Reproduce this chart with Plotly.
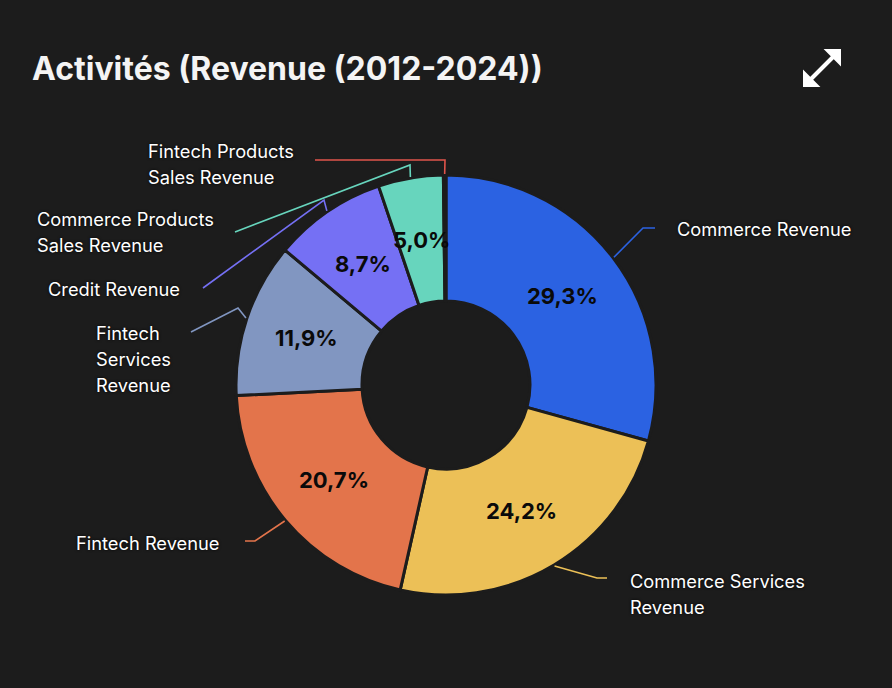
import math
import plotly.graph_objects as go

# ---------------- data ----------------
categories = [
    "Commerce Revenue",
    "Commerce Services Revenue",
    "Fintech Revenue",
    "Fintech Services Revenue",
    "Credit Revenue",
    "Commerce Products Sales Revenue",
    "Fintech Products Sales Revenue",
]
share_pct = [29.3, 24.2, 20.7, 11.9, 8.7, 5.0, 0.2]
label_lines = [
    ["Commerce Revenue"],
    ["Commerce Services", "Revenue"],
    ["Fintech Revenue"],
    ["Fintech", "Services", "Revenue"],
    ["Credit Revenue"],
    ["Commerce Products", "Sales Revenue"],
    ["Fintech Products", "Sales Revenue"],
]
colors = ["#2b62e2", "#ecc057", "#e3744b", "#8196c1", "#7570f4", "#67d5bd", "#e0544b"]
title = "Activités (Revenue (2012-2024))"

# ---------------- layout constants (pixels) ----------------
W, H = 892, 688
CX, CY, R = 446, 385, 210
HOLE = 0.4
BG = "#1c1c1c"
LINE_GAP = 26
# leader-line elbow and end points, label anchor (x, y of first line, xanchor)
elbows = [(643, 228), (597, 578), (255, 541), (238, 308), (324, 200), (410, 165), (445, 160)]
ends = [(655, 228), (607, 578), (245, 541), (191, 332), (203, 288), (235, 232), (315, 160)]
anchors = [(675, 229, "left"), (628, 581, "left"), (222, 543, "right"), (94, 333, "left"),
           (182, 289, "right"), (35, 219, "left"), (146, 151, "left")]


def px(x):
    return x / W


def py(y):
    return 1 - y / H


fig = go.Figure()
fig.add_trace(go.Pie(
    labels=categories,
    values=share_pct,
    hole=HOLE,
    sort=False,
    direction="clockwise",
    rotation=0,
    textinfo="none",
    marker=dict(colors=colors, line=dict(color=BG, width=3)),
    domain=dict(x=[px(CX - R), px(CX + R)], y=[py(CY + R), py(CY - R)]),
    showlegend=False,
))

total = sum(share_pct)
annotations = []
shapes = []
cum = 0.0
for i, v in enumerate(share_pct):
    mid = (cum + v / 2) / total * 2 * math.pi
    cum += v
    s, c = math.sin(mid), math.cos(mid)
    # percentage labels inside the ring
    if v / total >= 0.01:
        rm = R * (1 + HOLE) / 2
        annotations.append(dict(
            x=px(CX + rm * s), y=py(CY - rm * c), xref="paper", yref="paper",
            text=f"{v / total * 100:.1f}".replace(".", ",") + "%",
            showarrow=False, xanchor="center", yanchor="middle",
            font=dict(family="Inter, Roboto, sans-serif", size=22, color="#0a0a0a", weight="bold"),
        ))
    # leader line
    sx, sy = CX + (R + 1) * s, CY - (R + 1) * c
    ex1, ey1 = elbows[i]
    ex2, ey2 = ends[i]
    shapes.append(dict(
        type="path", xref="paper", yref="paper",
        path=f"M {px(sx)} {py(sy)} L {px(ex1)} {py(ey1)} L {px(ex2)} {py(ey2)}",
        line=dict(color=colors[i], width=1.6),
    ))
    ax_, ay_, xa = anchors[i]
    for k, line in enumerate(label_lines[i]):
        annotations.append(dict(
            x=px(ax_), y=py(ay_ + k * LINE_GAP), xref="paper", yref="paper",
            text=line, showarrow=False, xanchor=xa, yanchor="middle",
            font=dict(family="Inter, Roboto, sans-serif", size=18.3, color="#ffffff",
                      shadow="0px 0px 3px #000000"),
        ))

# title
annotations.append(dict(
    x=px(30), y=py(69), xref="paper", yref="paper", text=title, showarrow=False,
    xanchor="left", yanchor="middle",
    font=dict(family="Inter, Roboto, sans-serif", size=32, color="#f4f4f4", weight="bold"),
))

# expand icon (line + two arrowheads)
shapes.append(dict(type="line", xref="paper", yref="paper",
                   x0=px(811), y0=py(79), x1=px(833), y1=py(57),
                   line=dict(color="#ffffff", width=4)))
shapes.append(dict(type="path", xref="paper", yref="paper",
                   path=f"M {px(840)} {py(50)} L {px(840)} {py(64)} L {px(826)} {py(50)} Z",
                   fillcolor="#ffffff", line=dict(color="#ffffff", width=2)))
shapes.append(dict(type="path", xref="paper", yref="paper",
                   path=f"M {px(804)} {py(86)} L {px(804)} {py(72)} L {px(818)} {py(86)} Z",
                   fillcolor="#ffffff", line=dict(color="#ffffff", width=2)))

fig.update_layout(
    width=W, height=H,
    margin=dict(l=0, r=0, t=0, b=0),
    paper_bgcolor=BG, plot_bgcolor=BG,
    annotations=annotations, shapes=shapes,
)
fig.write_html("out.html")
